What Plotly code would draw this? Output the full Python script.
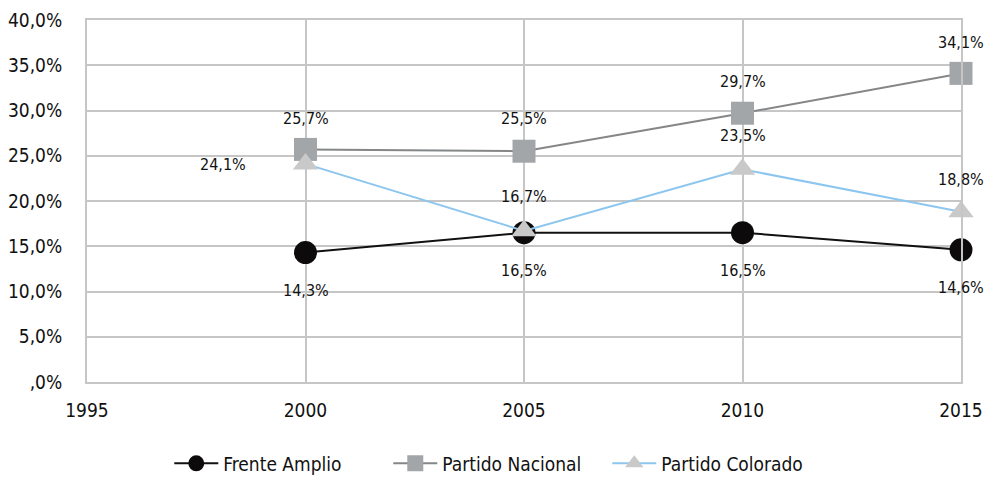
import plotly.graph_objects as go

years = [2000, 2005, 2010, 2015]
frente = [0.143, 0.165, 0.165, 0.146]
nacional = [0.257, 0.255, 0.297, 0.341]
colorado = [0.241, 0.167, 0.235, 0.188]

frente_lbl = ["14,3%", "16,5%", "16,5%", "14,6%"]
nacional_lbl = ["25,7%", "25,5%", "29,7%", "34,1%"]
colorado_lbl = ["24,1%", "16,7%", "23,5%", "18,8%"]

y_ticks = [0, 0.05, 0.10, 0.15, 0.20, 0.25, 0.30, 0.35, 0.40]
y_ticktext = [",0%", "5,0%", "10,0%", "15,0%", "20,0%", "25,0%", "30,0%", "35,0%", "40,0%"]
x_ticks = [1995, 2000, 2005, 2010, 2015]

FONT = "DejaVu Sans Condensed, Liberation Sans Narrow, sans-serif"
GRID = "#c6c6c6"

fig = go.Figure()
fig.add_trace(go.Scatter(x=years, y=frente, name="Frente Amplio", mode="lines+markers",
                         cliponaxis=False,
                         line=dict(color="#111111", width=2),
                         marker=dict(symbol="circle", size=23, color="#0d0a0b")))
fig.add_trace(go.Scatter(x=years, y=nacional, name="Partido Nacional", mode="lines+markers",
                         cliponaxis=False,
                         line=dict(color="#848688", width=2),
                         marker=dict(symbol="square", size=23, color="#a3a6a8")))
fig.add_trace(go.Scatter(x=years, y=colorado, name="Partido Colorado", mode="lines+markers",
                         cliponaxis=False,
                         line=dict(color="#8cc6ee", width=2),
                         marker=dict(symbol="triangle-up", size=22, color="#c9c9c9")))

ann = []
def add_labels(vals, lbls, shifts):
    for x, v, t, (dx, dy) in zip(years, vals, lbls, shifts):
        ann.append(dict(x=x, y=v, text=t, showarrow=False, xshift=dx, yshift=dy,
                        font=dict(family=FONT, size=16, color="#111111")))

add_labels(frente, frente_lbl, [(0, -38), (0, -38), (0, -38), (0, -38)])
add_labels(nacional, nacional_lbl, [(0, 31), (0, 33), (0, 32), (0, 31)])
add_labels(colorado, colorado_lbl, [(-83, -1), (0, 34), (0, 34), (0, 32)])

fig.update_layout(
    width=985, height=469,
    margin=dict(l=79, r=32, t=12, b=95, autoexpand=False),
    paper_bgcolor="white", plot_bgcolor="white",
    font=dict(family=FONT, size=19, color="#111111"),
    annotations=ann,
    showlegend=True,
    legend=dict(orientation="h",
                x=0.47, xanchor="center", y=-0.225, yanchor="middle",
                font=dict(family=FONT, size=19, color="#111111"),
                itemwidth=44, entrywidth=160, entrywidthmode="pixels", tracegroupgap=0),
    xaxis=dict(range=[1995, 2015], tickvals=x_ticks, showgrid=True, gridcolor=GRID, gridwidth=2,
               zeroline=False, showline=True, linecolor=GRID, linewidth=2, mirror=True,
               automargin=False, ticks="", ticklabelstandoff=10, tickfont=dict(size=19)),
    yaxis=dict(range=[0, 0.40], tickvals=y_ticks, ticktext=y_ticktext, showgrid=True, gridcolor=GRID,
               gridwidth=2, zeroline=False, showline=True, linecolor=GRID, linewidth=2, mirror=True,
               automargin=False, ticks="", ticklabelstandoff=19, tickfont=dict(size=19)),
)

fig.write_html("out.html")
